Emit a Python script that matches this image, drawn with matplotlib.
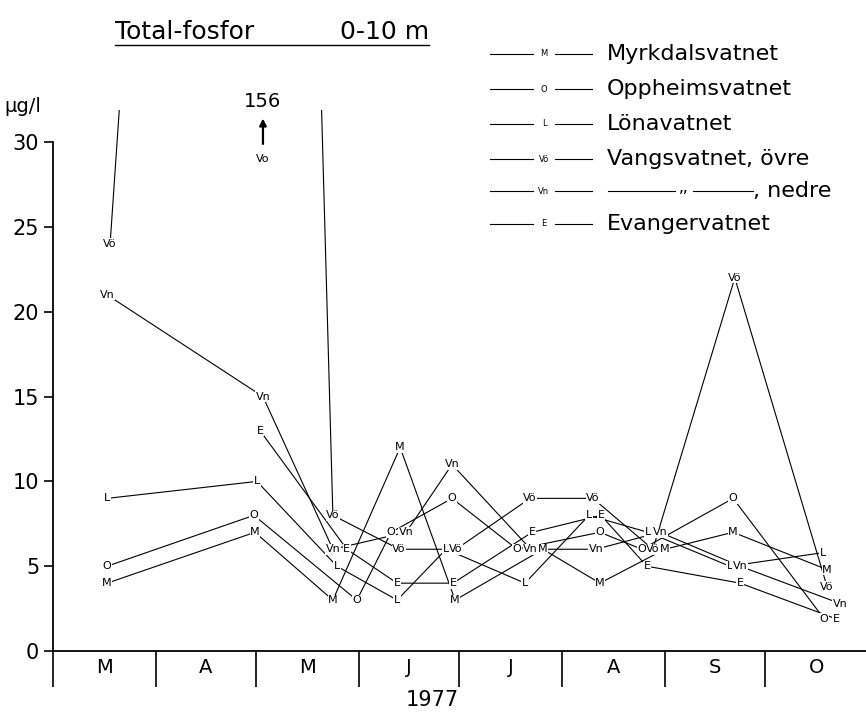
import matplotlib.pyplot as plt

# days counted from 1 March 1977, total phosphorus in ug/l
names = ["Myrkdalsvatnet", "Oppheimsvatnet", "Lönavatnet",
         "Vangsvatnet, övre", ", nedre", "Evangervatnet"]
abbr = ["M", "O", "L", "Vö", "Vn", "E"]

m_days = [16.4, 60.8, 84.2, 104.4, 120.9, 147.3, 164.4, 183.9, 204.4, 232.6]
m_vals = [4, 7, 3, 12, 3, 6, 4, 6, 7, 4.8]

o_days = [16.4, 60.5, 91.4, 101.7, 120.0, 139.5, 164.4, 177.0, 204.4, 231.7]
o_vals = [5, 8, 3, 7, 9, 6, 7, 6, 9, 1.9]

l_days = [16.4, 61.4, 85.4, 103.5, 118.2, 141.9, 161.1, 178.8, 203.4, 231.4]
l_vals = [9, 10, 5, 3, 6, 4, 8, 7, 5, 5.8]

vo_days = [17.3, 63.2, 84.2, 104.1, 121.2, 143.4, 162.3, 180.3, 204.9, 232.6]
vo_vals = [24, 156, 8, 6, 6, 9, 9, 6, 22, 3.8]

vn_days = [16.4, 63.2, 84.2, 106.2, 120.0, 143.6, 163.2, 182.4, 206.5, 236.5]
vn_vals = [21, 15, 6, 7, 11, 6, 6, 7, 5, 2.8]

e_days = [62.3, 88.4, 103.5, 120.3, 144.0, 164.7, 178.5, 206.5, 235.3]
e_vals = [13, 6, 4, 4, 7, 8, 5, 4, 1.9]

series = [(m_days, m_vals), (o_days, o_vals), (l_days, l_vals),
          (vo_days, vo_vals), (vn_days, vn_vals), (e_days, e_vals)]

months = ["M", "A", "M", "J", "J", "A", "S", "O"]
month_len = [31, 30, 31, 30, 31, 31, 30, 31]

top = 31.9

fig = plt.figure(figsize=(8.66, 7.18), dpi=100)
W, H = 866.0, 718.0
ax = fig.add_axes([52.5 / W, 1 - 651 / H, (W - 52.5) / W, (651 - 110) / H])
ax.set_xlim(0, 244.3)
ax.set_ylim(0, top)

for (d, v), a in zip(series, abbr):
    ax.plot(d, v, color="black", lw=0.8, zorder=2)
    for x, y in zip(d, v):
        if y <= top:
            ax.text(x, y, a, ha="center", va="center", fontsize=8, zorder=3,
                    bbox=dict(fc="white", ec="none", pad=0.4))

# the off-scale value of Vangsvatnet, övre
i_big = vo_vals.index(max(vo_vals))
xb = vo_days[i_big]
ax.text(xb, 32.4, f"{vo_vals[i_big]:g}", ha="center", va="center", fontsize=14,
        clip_on=False)
ax.annotate("", xy=(xb, 31.4), xytext=(xb, 29.9), annotation_clip=False,
            arrowprops=dict(arrowstyle="-|>", color="black", lw=1.6,
                            mutation_scale=10, shrinkA=0, shrinkB=0))
ax.text(xb, 29.0, "Vo", ha="center", va="center", fontsize=8, clip_on=False)

# axes
for s in ["top", "right"]:
    ax.spines[s].set_visible(False)
ax.spines["left"].set_bounds(0, 30)
ax.spines["left"].set_linewidth(1.3)
ax.spines["bottom"].set_linewidth(1.3)

ax.set_yticks(range(0, 31, 5))
ax.tick_params(axis="y", length=6.5, width=1.2, pad=3, labelsize=15)

starts = [0]
for n in month_len:
    starts.append(starts[-1] + n)
mids = [(starts[i] + starts[i + 1]) / 2 for i in range(len(months))]
ax.set_xticks(starts[:-1])
ax.set_xticklabels([])
ax.set_xticks(mids, minor=True)
ax.set_xticklabels(months, minor=True)
ax.tick_params(axis="x", which="major", length=26, width=1.2, direction="out")
ax.tick_params(axis="x", which="minor", length=0, pad=5, labelsize=14)

fig.text(432 / W, 1 - 700 / H, "1977", ha="center", va="center", fontsize=15)
fig.text(4 / W, 1 - 107 / H, "µg/l", ha="left", va="center", fontsize=14)

# underlined title
t1 = fig.text(115 / W, 1 - 39 / H, "Total-fosfor", ha="left", va="baseline",
              fontsize=18)
t2 = fig.text(340 / W, 1 - 39 / H, "0-10 m", ha="left", va="baseline",
              fontsize=18)
fig.canvas.draw()
x0 = t1.get_window_extent().x0
x1 = t2.get_window_extent().x1
fig.add_artist(plt.Line2D([x0 / W, x1 / W], [1 - 45 / H, 1 - 45 / H],
                          color="black", lw=1.0))

# legend
rows = [54, 89, 124, 159, 191, 224]
for k in range(len(names)):
    y = 1 - rows[k] / H
    fig.add_artist(plt.Line2D([490 / W, 533 / W], [y, y], color="black", lw=0.8))
    fig.text(544 / W, y, abbr[k], ha="center", va="center", fontsize=6)
    fig.add_artist(plt.Line2D([555 / W, 592 / W], [y, y], color="black", lw=0.8))
    if k == 4:
        fig.add_artist(plt.Line2D([608 / W, 675 / W], [y, y], color="black", lw=0.8))
        fig.text(684 / W, y + 3 / H, ",,", ha="center", va="center", fontsize=11)
        fig.add_artist(plt.Line2D([693 / W, 753 / W], [y, y], color="black", lw=0.8))
        fig.text(753 / W, y, names[k], ha="left", va="center", fontsize=16)
    else:
        fig.text(607 / W, y, names[k], ha="left", va="center", fontsize=16)

fig.savefig("out.png", dpi=100)
